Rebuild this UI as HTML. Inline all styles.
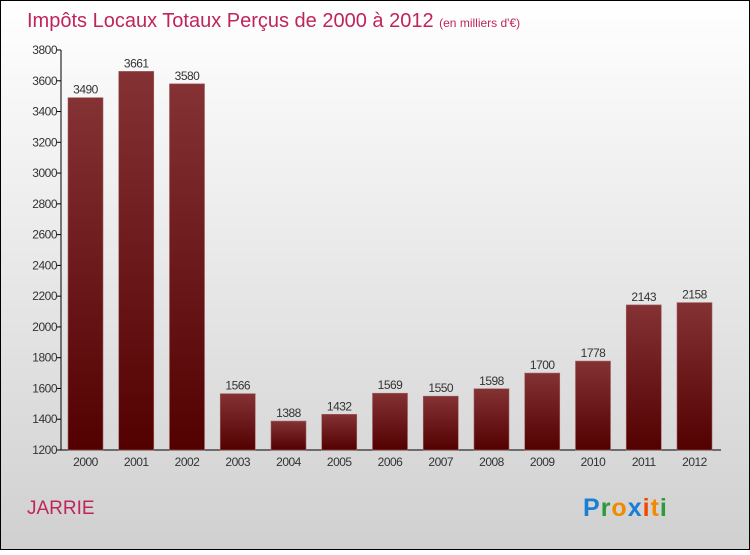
<!DOCTYPE html>
<html><head><meta charset="utf-8"><style>
body{margin:0;width:750px;height:550px;overflow:hidden;font-family:"Liberation Sans",sans-serif}
</style></head><body>
<svg id="c" width="750" height="550" xmlns="http://www.w3.org/2000/svg">
<defs>
<linearGradient id="bg" x1="0" y1="0" x2="0" y2="1"><stop offset="0" stop-color="#ffffff"/><stop offset="1" stop-color="#d0d0d0"/></linearGradient>
<linearGradient id="bar" x1="0" y1="0" x2="0" y2="1"><stop offset="0" stop-color="#843234"/><stop offset="1" stop-color="#520000"/></linearGradient>
</defs>
<rect x="0.5" y="0.5" width="749" height="549" fill="url(#bg)" stroke="#000"/>
<text x="27" y="27" font-size="20" fill="#c0245c">Impôts Locaux Totaux Perçus de 2000 à 2012 <tspan font-size="12">(en milliers d'€)</tspan></text>
<text x="27" y="514" font-size="19" fill="#c0245c">JARRIE</text>
<text x="583" y="516" font-size="25" font-weight="bold" letter-spacing="1"><tspan fill="#1a7fd4">P</tspan><tspan fill="#2a9a3a">r</tspan><tspan fill="#f08a00">o</tspan><tspan fill="#1a7fd4">x</tspan><tspan fill="#f04a00">i</tspan><tspan fill="#f08a00">t</tspan><tspan fill="#2a9a3a">i</tspan></text>
<g id="axes"></g><g id="bars"></g>
</svg>
<script>
const years=["2000","2001","2002","2003","2004","2005","2006","2007","2008","2009","2010","2011","2012"];
const values=[3490,3661,3580,1566,1388,1432,1569,1550,1598,1700,1778,2143,2158];
const yTicks=[1200,1400,1600,1800,2000,2200,2400,2600,2800,3000,3200,3400,3600,3800];
const NS="http://www.w3.org/2000/svg";
const yMin=1200,yMax=3800,plotTop=50,plotBot=450,plotLeft=61,plotRight=721;
const y=v=>plotBot-(v-yMin)/(yMax-yMin)*(plotBot-plotTop);
const xc=i=>85.5+i*50.75;
function mk(t,a,p){const e=document.createElementNS(NS,t);for(const k in a)e.setAttribute(k,a[k]);p.appendChild(e);return e;}
const ax=document.getElementById('axes'),bg=document.getElementById('bars');
let l=mk('line',{x1:plotLeft,y1:plotTop,x2:plotLeft,y2:plotBot,stroke:'#000'},ax);


l=mk('line',{x1:plotLeft,y1:plotBot,x2:plotRight,y2:plotBot,stroke:'#000'},ax);


yTicks.forEach(v=>{
 const t=mk('line',{x1:plotLeft-4,y1:y(v),x2:plotLeft,y2:y(v),stroke:'#000'},ax);
 
 
 const tx=mk('text',{x:plotLeft-4,y:y(v)+4,'text-anchor':'end','font-size':12,fill:'#333','letter-spacing':'-0.5'},ax);
 tx.textContent=v;
 
 
});
years.forEach((yr,i)=>{
 const r=mk('rect',{x:xc(i)-17.5,y:y(values[i]),width:35,height:plotBot-y(values[i]),fill:'url(#bar)',stroke:'#a06060','stroke-width':0.6},bg);
 
 
 const v=mk('text',{x:xc(i),y:y(values[i])-4,'text-anchor':'middle','font-size':12,fill:'#333','letter-spacing':'-0.5'},bg);
 v.textContent=values[i];
 
 
 const tx=mk('text',{x:xc(i),y:466,'text-anchor':'middle','font-size':12,fill:'#333','letter-spacing':'-0.5'},ax);
 tx.textContent=yr;
 
 
});
</script>
</body></html>
